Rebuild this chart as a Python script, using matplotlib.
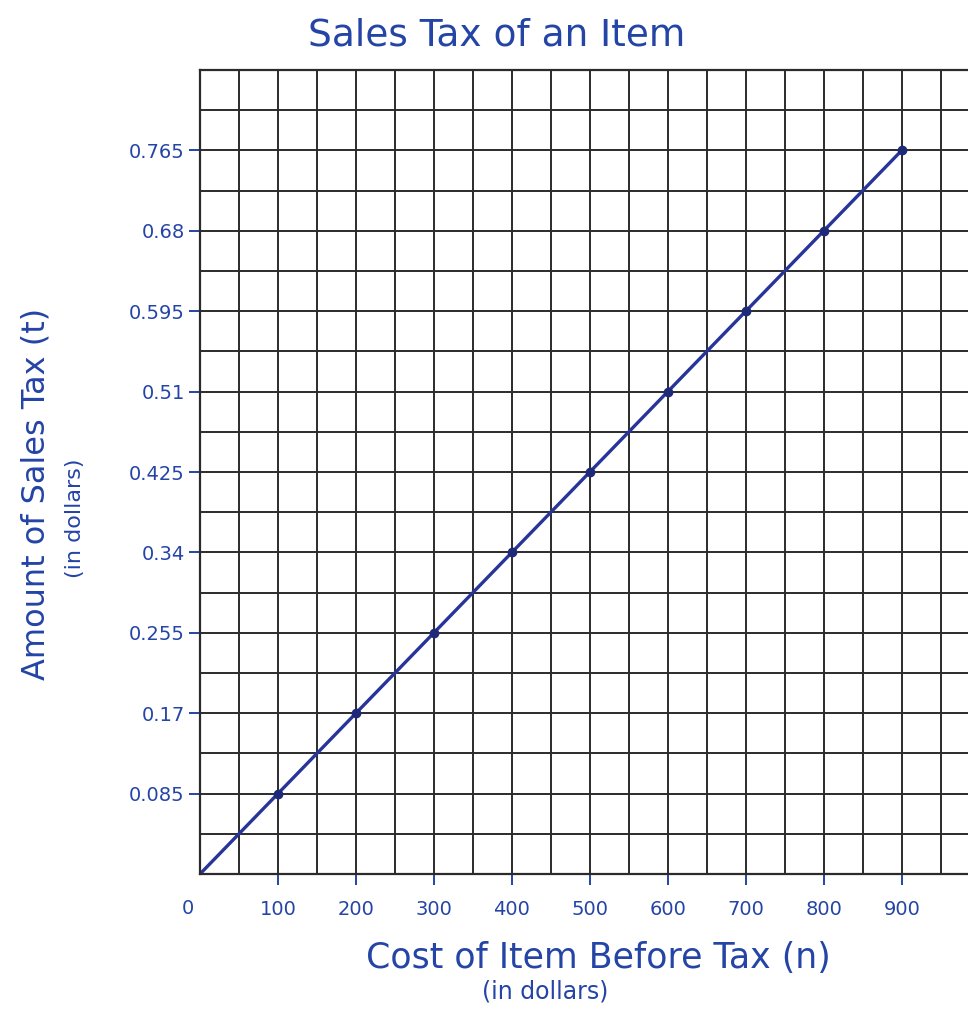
import matplotlib
matplotlib.use("Agg")
import matplotlib.pyplot as plt
from matplotlib.ticker import MultipleLocator, FixedLocator

# ---- data ----
cost = [0, 100, 200, 300, 400, 500, 600, 700, 800, 900]
tax = [0.0, 0.085, 0.17, 0.255, 0.34, 0.425, 0.51, 0.595, 0.68, 0.765]
x_ticks = [100, 200, 300, 400, 500, 600, 700, 800, 900]
x_tick_labels = ["100", "200", "300", "400", "500", "600", "700", "800", "900"]
y_ticks = [0.085, 0.17, 0.255, 0.34, 0.425, 0.51, 0.595, 0.68, 0.765]
y_tick_labels = ["0.085", "0.17", "0.255", "0.34", "0.425", "0.51", "0.595", "0.68", "0.765"]

title = "Sales Tax of an Item"
xlabel = "Cost of Item Before Tax (n)"
ylabel = "Amount of Sales Tax (t)"
unit = "(in dollars)"

INK = "#2444a6"
LINE = "#27349a"
GRID = "#2b2b2b"

W, H = 968, 1009
fig = plt.figure(figsize=(W / 100, H / 100), dpi=100)
fig.patch.set_facecolor("white")

left, right, top, bottom = 200, 968, 70, 874
ax = fig.add_axes([left / W, 1 - bottom / H, (right - left) / W, (bottom - top) / H])

ax.set_xlim(0, 985)
ax.set_ylim(0, 0.85)

ax.xaxis.set_major_locator(FixedLocator(x_ticks))
ax.set_xticklabels(x_tick_labels)
ax.yaxis.set_major_locator(FixedLocator(y_ticks))
ax.set_yticklabels(y_tick_labels)
ax.xaxis.set_minor_locator(MultipleLocator(50))
ax.yaxis.set_minor_locator(MultipleLocator(0.0425))

ax.grid(which="minor", color=GRID, linewidth=1.4)
ax.grid(which="major", color=GRID, linewidth=1.4)
ax.set_axisbelow(True)
ax.tick_params(which="minor", length=0)
ax.tick_params(which="major", direction="out", length=8, width=1.4, color=INK,
               labelcolor=INK, labelsize=14)
ax.tick_params(axis="x", pad=11)
ax.tick_params(axis="y", pad=3)

for s in ax.spines.values():
    s.set_color(GRID)
    s.set_linewidth(1.6)
ax.spines["right"].set_visible(False)

ax.plot(cost, tax, color=LINE, linewidth=2.4, marker="o", markersize=6,
        markerfacecolor="#1e2a78", markeredgecolor="#1e2a78",
        markevery=list(range(1, len(cost))), solid_capstyle="round")

ax.annotate("0", xy=(0, 0), xytext=(-9, -25), textcoords="offset points",
            ha="center", va="center", color=INK, fontsize=14)

fig.text(497 / W, 1 - 35 / H, title, ha="center", va="center", color=INK, fontsize=27)
fig.text(598 / W, 1 - 958 / H, xlabel, ha="center", va="center", color=INK, fontsize=25)
fig.text(545 / W, 1 - 992 / H, unit, ha="center", va="center", color=INK, fontsize=17)
fig.text(36 / W, 1 - 494 / H, ylabel, ha="center", va="center", color=INK,
         fontsize=23, rotation=90)
fig.text(75 / W, 1 - 518 / H, unit, ha="center", va="center", color=INK,
         fontsize=16, rotation=90)

fig.savefig("out.png", dpi=100, facecolor="white")
